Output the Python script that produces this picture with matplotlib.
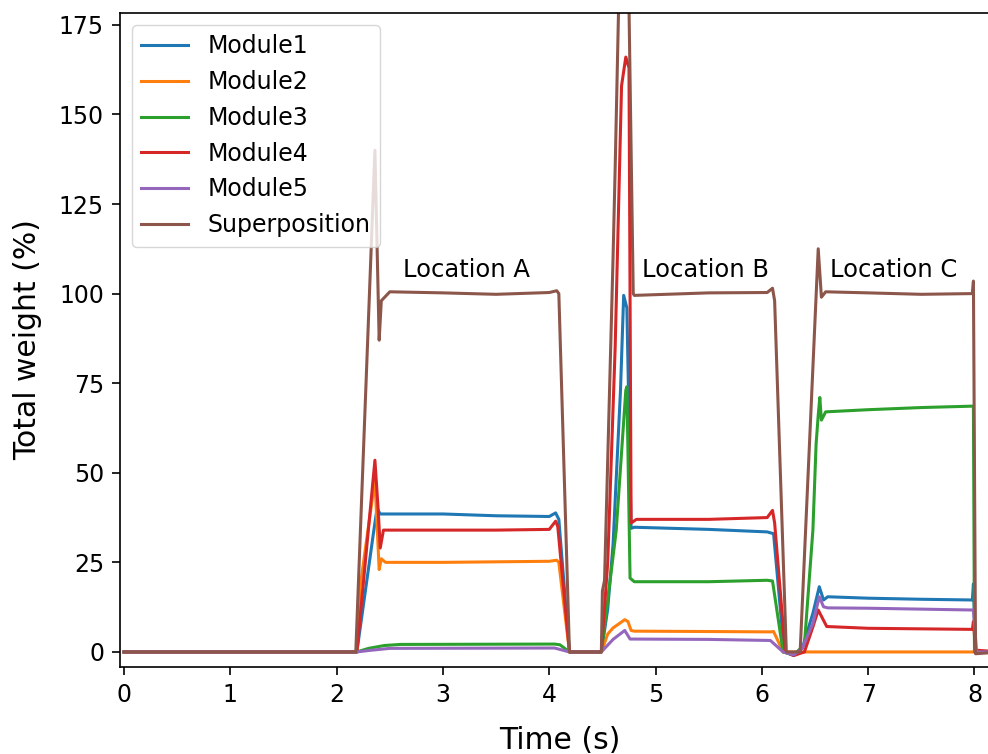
import matplotlib
matplotlib.use("Agg")
import matplotlib.pyplot as plt

# keypoints (time in s, weight in %)
t_m1 = [0, 2.19, 2.35, 2.38, 2.41, 3.0, 3.5, 4.0, 4.06, 4.09, 4.19, 4.49, 4.55, 4.60, 4.67, 4.70, 4.73, 4.77,
        4.80, 5.5, 6.05, 6.11, 6.21, 6.30, 6.38, 6.48, 6.54, 6.58, 6.62, 7.0, 7.5, 7.98, 7.99, 8.01, 8.25]
v_m1 = [0, 0, 34, 40, 38.5, 38.5, 38.0, 37.8, 38.8, 37, 0, 0, 12, 30, 73, 99.5, 96, 34.5,
        34.8, 34.2, 33.5, 33, 0, -1, 1, 10.8, 18.2, 14.5, 15.4, 15.0, 14.7, 14.5, 19, 0, 0]

t_m2 = [0, 2.19, 2.22, 2.36, 2.40, 2.42, 2.46, 3.0, 4.0, 4.07, 4.09, 4.19, 4.49, 4.55, 4.60, 4.71, 4.74,
        4.77, 4.80, 5.5, 6.08, 6.11, 6.20, 6.40, 8.25]
v_m2 = [0, 0, 18, 48, 23, 26, 25, 25, 25.3, 25.6, 25, 0, 0, 5, 6.7, 9, 8.5,
        6, 5.8, 5.7, 5.6, 5.7, 0, 0, 0]

t_m3 = [0, 2.19, 2.30, 2.45, 2.6, 4.05, 4.10, 4.19, 4.49, 4.60, 4.63, 4.72, 4.73, 4.76, 4.80, 5.5, 6.05,
        6.10, 6.20, 6.30, 6.40, 6.48, 6.51, 6.53, 6.545, 6.56, 6.60, 7.0, 7.5, 7.99, 8.00, 8.25]
v_m3 = [0, 0, 1, 1.8, 2.1, 2.2, 2.0, 0, 0, 26.6, 34, 73, 74, 20.6, 19.6, 19.6, 20,
        19.8, 0, -0.8, 2, 34, 58, 66, 71, 64.7, 67, 67.6, 68.2, 68.6, 0, 0]

t_m4 = [0, 2.19, 2.36, 2.39, 2.41, 2.44, 3.0, 3.5, 4.0, 4.06, 4.08, 4.19, 4.49, 4.55, 4.62, 4.68, 4.72,
        4.75, 4.77, 4.82, 5.5, 6.05, 6.10, 6.12, 6.22, 6.30, 6.40, 6.48, 6.53, 6.61, 7.0, 7.98, 7.99,
        8.01, 8.25]
v_m4 = [0, 0, 53.5, 40, 29, 34, 34, 34, 34.2, 36.5, 35, 0, 0, 25, 85, 158, 166,
        163, 36, 37, 37, 37.5, 39.5, 36, 0, -1, 0, 7, 11.7, 7.1, 6.6, 6.3, 8.5,
        0.5, 0]

t_m5 = [0, 2.19, 2.30, 2.50, 4.05, 4.19, 4.49, 4.60, 4.71, 4.76, 5.5, 6.08, 6.20, 6.30, 6.38, 6.48,
        6.54, 6.58, 6.62, 7.0, 7.99, 8.02, 8.25]
v_m5 = [0, 0, 0.4, 1.0, 1.1, 0, 0, 3.5, 6, 3.6, 3.5, 3.2, 0, -0.8, 1, 8,
        15.4, 12.6, 12.3, 12.2, 11.7, 0, 0]

t_sup = [0, 2.18, 2.36, 2.40, 2.42, 2.50, 3.0, 3.5, 4.0, 4.07, 4.09, 4.19, 4.49, 4.50, 4.52, 4.60, 4.62,
         4.71, 4.79, 4.80, 5.5, 6.05, 6.10, 6.12, 6.23, 6.36, 6.53, 6.56, 6.60, 7.0, 7.5, 7.98, 7.99,
         8.01, 8.25]
v_sup = [0, 0, 140, 87, 98, 100.5, 100.2, 99.8, 100.3, 100.8, 100, 0, 0, 17, 20, 110, 135,
         260, 100, 99.5, 100.2, 100.3, 101.5, 98, 0, 0, 112.5, 99, 100.5, 100.2, 99.8, 100, 103.5,
         -0.5, 0]

names = ["Module1", "Module2", "Module3", "Module4", "Module5", "Superposition"]
series = [(t_m1, v_m1), (t_m2, v_m2), (t_m3, v_m3), (t_m4, v_m4), (t_m5, v_m5), (t_sup, v_sup)]

loc_names = ["Location A", "Location B", "Location C"]
loc_x = [3.22, 5.47, 7.24]
loc_y = [106.5, 106.5, 106.5]

fig = plt.figure(figsize=(9.88, 7.54), dpi=100)
ax = fig.add_axes([120 / 988, 87 / 754, 880 / 988, 654 / 754])

for (t, v), name in zip(series, names):
    ax.plot(t, v, lw=2.2, label=name)

for name, x, y in zip(loc_names, loc_x, loc_y):
    ax.text(x, y, name, fontsize=17.5, ha="center", va="center")

ax.set_xlim(-0.038, 8.24)
ax.set_ylim(-4.2, 178.3)
ax.set_xticks(range(9))
ax.set_yticks([0, 25, 50, 75, 100, 125, 150, 175])
ax.tick_params(labelsize=17, length=5.5, width=1.2, pad=6)
for s in ax.spines.values():
    s.set_linewidth(1.2)

ax.set_xlabel("Time (s)", fontsize=21.5, labelpad=14)
ax.set_ylabel("Total weight (%)", fontsize=21.5, labelpad=12)
ax.legend(loc="upper left", fontsize=17)

fig.savefig("out.png", dpi=100)
